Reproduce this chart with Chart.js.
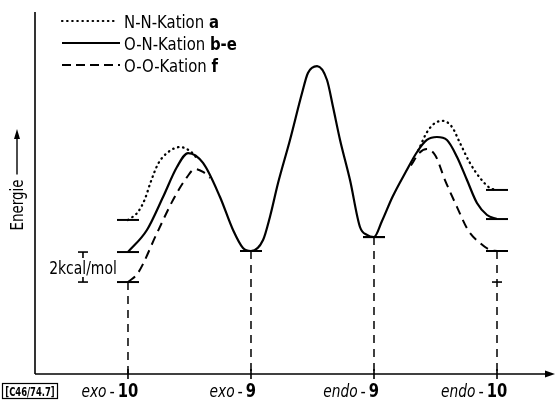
<!DOCTYPE html>
<html><head><meta charset="utf-8">
<script src="https://cdn.jsdelivr.net/npm/chart.js@4"></script>
<style>html,body{margin:0;padding:0;background:#fff}#wrap{width:556px;height:405px}</style>
</head><body><div id="wrap"><canvas id="c" width="556" height="405"></canvas></div>
<script>
// ---- data (energy in kcal/mol relative to exo-9; reaction coordinate 0..3) ----
const categories = ['exo-10', 'exo-9', 'endo-9', 'endo-10'];
const categoryX = [0, 1, 2, 3];
const seriesLabels = ['N-N-Kation', 'O-N-Kation', 'O-O-Kation'];
const seriesKeys = ['a', 'b-e', 'f'];

// O-N-Kation b-e (solid, full profile)
const onX = [0, 0.154, 0.285, 0.398, 0.488, 0.610, 0.748, 0.854, 0.935, 1.00,
  1.098, 1.154, 1.220, 1.317, 1.415, 1.463, 1.537, 1.618, 1.667, 1.724, 1.805, 1.886, 1.943, 2.00,
  2.065, 2.15, 2.26, 2.35, 2.43, 2.512, 2.593, 2.675, 2.756, 2.837, 2.919, 3.00];
const onY = [-0.07, 1.40, 3.60, 5.60, 6.53, 5.87, 3.60, 1.40, 0.20, 0.00,
  0.73, 2.27, 4.53, 7.40, 10.53, 11.87, 12.33, 11.40, 9.60, 7.40, 4.73, 1.60, 1.07, 0.93,
  2.00, 3.60, 5.30, 6.60, 7.40, 7.60, 7.40, 6.27, 4.73, 3.20, 2.40, 2.13];

// N-N-Kation a (dotted, where it differs from the solid curve)
const nnX = [0, 0.081, 0.138, 0.179, 0.244, 0.317, 0.423, 0.504, 0.56, 1.5,
  2.36, 2.431, 2.496, 2.561, 2.634, 2.699, 2.780, 2.862, 2.943, 3.00];
const nnY = [2.07, 2.60, 3.47, 4.47, 5.80, 6.53, 6.93, 6.67, 6.20, null,
  6.70, 7.93, 8.53, 8.67, 8.27, 7.20, 5.87, 4.87, 4.20, 4.07];

// O-O-Kation f (dashed, where it differs from the solid curve)
const ooX = [0, 0.081, 0.236, 0.366, 0.480, 0.545, 0.61, 0.667, 1.5,
  2.30, 2.37, 2.43, 2.50, 2.577, 2.675, 2.764, 2.862, 2.943, 3.00];
const ooY = [-2.07, -1.47, 1.20, 3.40, 4.93, 5.47, 5.27, 4.87, null,
  5.70, 6.55, 6.80, 6.35, 4.73, 2.93, 1.40, 0.53, 0.07, 0.00];

// energy levels at each minimum
const levelsNN = [2.07, 0, 0.93, 4.07];
const levelsON = [-0.07, 0, 0.93, 2.13];
const levelsOO = [-2.07, 0, 0.93, 0];
const extraMarks = [[3, -2.07]];      // small bar on endo-10 drop line
const scaleBar = { x: -0.366, from: -0.07, to: -2.07, label: '2kcal/mol' };
const refCode = 'C46/74.7';
const yTitle = 'Energie';

// ---- drawing ----
const INK = '#000';
const FONT = "'DejaVu Sans Condensed','Liberation Sans Narrow','DejaVu Sans',sans-serif";

function txt(ctx, s, x, y, font, align, sq) {
  ctx.save();
  ctx.font = font;
  const w = ctx.measureText(s).width * sq;
  let x0 = x;
  if (align === 'center') x0 = x - w / 2;
  else if (align === 'right') x0 = x - w;
  ctx.translate(x0, y);
  ctx.scale(sq, 1);
  ctx.textAlign = 'left';
  ctx.textBaseline = 'alphabetic';
  ctx.fillStyle = INK;
  ctx.fillText(s, 0, 0);
  ctx.restore();
  return w;
}
function seg(ctx, x1, y1, x2, y2) { ctx.beginPath(); ctx.moveTo(x1, y1); ctx.lineTo(x2, y2); ctx.stroke(); }

const deco = {
  id: 'deco',
  beforeDatasetsDraw(chart) {
    const { ctx, scales: { x, y } } = chart;
    ctx.save();
    ctx.strokeStyle = INK; ctx.fillStyle = INK;
    const ax = x.left, ay = y.bottom;
    ctx.lineWidth = 1.6;
    seg(ctx, ax, y.top, ax, ay);
    seg(ctx, ax, ay, x.right, ay);
    ctx.beginPath(); ctx.moveTo(x.right + 4, ay); ctx.lineTo(x.right - 6, ay - 3.5); ctx.lineTo(x.right - 6, ay + 3.5); ctx.closePath(); ctx.fill();
    categoryX.forEach(v => { const px = x.getPixelForValue(v); seg(ctx, px, ay - 5, px, ay + 5); });
    // drop lines
    ctx.lineWidth = 1.5; ctx.setLineDash([8, 6]);
    categoryX.forEach((v, i) => {
      const lo = Math.min(levelsNN[i], levelsON[i], levelsOO[i]);
      const px = x.getPixelForValue(v);
      seg(ctx, px, y.getPixelForValue(lo), px, ay);
    });
    ctx.setLineDash([]);
    // level bars
    ctx.lineWidth = 2;
    [levelsNN, levelsON, levelsOO].forEach(L => L.forEach((lv, i) => {
      const px = x.getPixelForValue(categoryX[i]), py = y.getPixelForValue(lv);
      seg(ctx, px - 11, py, px + 11, py);
    }));
    ctx.lineWidth = 1.6;
    extraMarks.forEach(([vx, vy]) => {
      const px = x.getPixelForValue(vx), py = y.getPixelForValue(vy);
      seg(ctx, px - 5, py, px + 5, py);
    });
    // scale bar
    const sx = x.getPixelForValue(scaleBar.x), s1 = y.getPixelForValue(scaleBar.from), s2 = y.getPixelForValue(scaleBar.to);
    ctx.lineWidth = 1.6;
    seg(ctx, sx - 5, s1, sx + 5, s1); seg(ctx, sx, s1, sx, s1 + 6);
    seg(ctx, sx - 5, s2, sx + 5, s2); seg(ctx, sx, s2, sx, s2 - 5);
    txt(ctx, scaleBar.label, sx, (s1 + s2) / 2 + 7, '18px ' + FONT, 'center', 0.86);
    ctx.restore();
  },
  afterDraw(chart) {
    const { ctx, scales: { x, y } } = chart;
    ctx.save();
    ctx.strokeStyle = INK; ctx.fillStyle = INK;
    // legend
    const rows = [21, 43, 65];
    const dashes = [[0.5, 4.6], [], [9, 5]];
    rows.forEach((ry, i) => {
      ctx.lineWidth = i === 0 ? 2.2 : 2;
      ctx.lineCap = i === 0 ? 'round' : 'butt';
      ctx.setLineDash(dashes[i]);
      seg(ctx, 62, ry, i === 0 ? 114 : 120, ry);
      ctx.setLineDash([]); ctx.lineCap = 'butt';
      const w = txt(ctx, seriesLabels[i] + ' ', 124, ry + 6.5, '18px ' + FONT, 'left', 0.92);
      txt(ctx, seriesKeys[i], 124 + w, ry + 6.5, 'bold 18px ' + FONT, 'left', 0.92);
    });
    // y title with arrow
    ctx.save();
    ctx.translate(23, 205);
    ctx.rotate(-Math.PI / 2);
    const tw = txt(ctx, yTitle, 0, 0, '17px ' + FONT, 'center', 0.88);
    ctx.restore();
    ctx.lineWidth = 1.4;
    seg(ctx, 17, 205 - tw / 2 - 5, 17, 137);
    ctx.beginPath(); ctx.moveTo(17, 129); ctx.lineTo(14, 139); ctx.lineTo(20, 139); ctx.closePath(); ctx.fill();
    // category labels
    categories.forEach((c, i) => {
      const parts = c.split('-');
      const px = x.getPixelForValue(categoryX[i]);
      const by = 397;
      const nw = txt(ctx, parts[1], px, by, 'bold 20px ' + FONT, 'center', 0.82);
      const hx = px - nw / 2 - 3;
      const hw = txt(ctx, '-', hx, by, '18px ' + FONT, 'right', 0.9);
      txt(ctx, parts[0], hx - hw - 3, by, 'italic 18px ' + FONT, 'right', 0.85);
    });
    // reference code box
    ctx.lineWidth = 1.2;
    ctx.strokeRect(2.5, 383.5, 55, 15);
    txt(ctx, '[' + refCode + ']', 30, 395.5, 'bold 12px ' + FONT, 'center', 0.78);
    ctx.restore();
  }
};

const pts = (xs, ys) => xs.map((v, i) => ({ x: v, y: ys[i] }));

new Chart(document.getElementById('c'), {
  type: 'scatter',
  data: {
    datasets: [
      { label: seriesLabels[1] + ' ' + seriesKeys[1], data: pts(onX, onY), showLine: true, borderColor: INK, borderWidth: 2.2, pointRadius: 0, cubicInterpolationMode: 'monotone', fill: false },
      { label: seriesLabels[0] + ' ' + seriesKeys[0], data: pts(nnX, nnY), showLine: true, borderColor: INK, borderWidth: 2.3, borderDash: [0.5, 4.6], borderCapStyle: 'round', pointRadius: 0, cubicInterpolationMode: 'monotone', spanGaps: false, fill: false },
      { label: seriesLabels[2] + ' ' + seriesKeys[2], data: pts(ooX, ooY), showLine: true, borderColor: INK, borderWidth: 2, borderDash: [9, 6], pointRadius: 0, cubicInterpolationMode: 'monotone', spanGaps: false, fill: false }
    ]
  },
  options: {
    responsive: false, animation: false,
    layout: { padding: { left: 35, right: 5, top: 12, bottom: 31 } },
    plugins: { legend: { display: false }, tooltip: { enabled: false } },
    scales: {
      x: { type: 'linear', display: false, min: -0.756, max: 3.439 },
      y: { type: 'linear', display: false, min: -8.2, max: 15.933 }
    }
  },
  plugins: [deco]
});
</script></body></html>
